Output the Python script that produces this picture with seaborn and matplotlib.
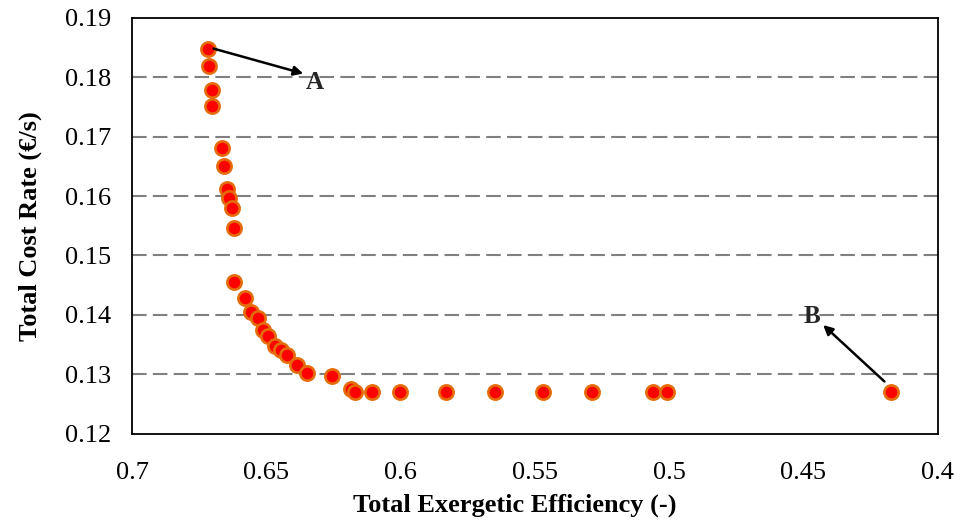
import matplotlib
matplotlib.use("Agg")
import matplotlib.pyplot as plt
import seaborn as sns
import pandas as pd

efficiency = [0.6719, 0.6714, 0.6704, 0.6702, 0.6665, 0.6657, 0.6647, 0.6640, 0.6629, 0.6621,
              0.6621, 0.6581, 0.6557, 0.6533, 0.6512, 0.6493, 0.6467, 0.6445, 0.6425, 0.6387,
              0.6350, 0.6256, 0.6186, 0.6171, 0.6108, 0.6003, 0.5830, 0.5649, 0.5470, 0.5288,
              0.5061, 0.5007, 0.4173]
cost_rate = [0.1847, 0.1819, 0.1778, 0.1751, 0.1681, 0.1650, 0.1612, 0.1597, 0.1580, 0.1547,
             0.1455, 0.1428, 0.1405, 0.1395, 0.1375, 0.1365, 0.1347, 0.1341, 0.1332, 0.1315,
             0.1302, 0.1297, 0.1275, 0.1271, 0.1271, 0.1271, 0.1271, 0.1271, 0.1271, 0.1271,
             0.1271, 0.1271, 0.1271]
x_ticks = [0.7, 0.65, 0.6, 0.55, 0.5, 0.45, 0.4]
x_tick_labels = ["0.7", "0.65", "0.6", "0.55", "0.5", "0.45", "0.4"]
y_ticks = [0.12, 0.13, 0.14, 0.15, 0.16, 0.17, 0.18, 0.19]
y_tick_labels = ["0.12", "0.13", "0.14", "0.15", "0.16", "0.17", "0.18", "0.19"]

df = pd.DataFrame({"eff": efficiency, "cost": cost_rate})

sns.set_theme(style="white")
plt.rcParams["font.family"] = ["Liberation Serif", "DejaVu Serif"]

fig = plt.figure(figsize=(9.6, 5.27), dpi=100)
ax = fig.add_axes([0.1378, 0.1769, 0.8388, 0.7895])

for yt in y_ticks[1:-1]:
    ax.axhline(yt, color="#808080", lw=1.5, ls=(0, (7, 3)), zorder=0)

sns.scatterplot(data=df, x="eff", y="cost", ax=ax, s=105, color="#FF0000",
                edgecolor="#E46C0A", linewidth=1.9, zorder=3, legend=False)

ax.set_xlim(0.7, 0.4)
ax.set_ylim(0.12, 0.19)
ax.set_xticks(x_ticks)
ax.set_xticklabels(x_tick_labels)
ax.set_yticks(y_ticks)
ax.set_yticklabels(y_tick_labels)
ax.tick_params(axis="x", length=0, pad=20, labelsize=19, colors="black")
ax.tick_params(axis="y", length=0, pad=15, labelsize=19, colors="black")

for sp in ax.spines.values():
    sp.set_visible(True)
    sp.set_color("black")
    sp.set_linewidth(1.3)

ax.set_xlabel("Total Exergetic Efficiency (-)", fontsize=19, fontweight="bold", color="black")
ax.xaxis.set_label_coords(0.475, -0.143)
ax.set_ylabel("Total Cost Rate (€/s)", fontsize=19, fontweight="bold", labelpad=17, color="black")

ax.annotate("", xy=(0.6363, 0.1806), xytext=(0.6697, 0.1848),
            arrowprops=dict(arrowstyle="-|>", color="black", lw=1.8, mutation_scale=14,
                            shrinkA=0, shrinkB=0), zorder=4)
ax.text(0.6319, 0.1791, "A", fontsize=18, fontweight="bold", ha="center", va="center")
ax.annotate("", xy=(0.4426, 0.1383), xytext=(0.4198, 0.1288),
            arrowprops=dict(arrowstyle="-|>", color="black", lw=1.8, mutation_scale=14,
                            shrinkA=0, shrinkB=0), zorder=4)
ax.text(0.4469, 0.1397, "B", fontsize=18, fontweight="bold", ha="center", va="center")

fig.savefig("out.png", dpi=100)
